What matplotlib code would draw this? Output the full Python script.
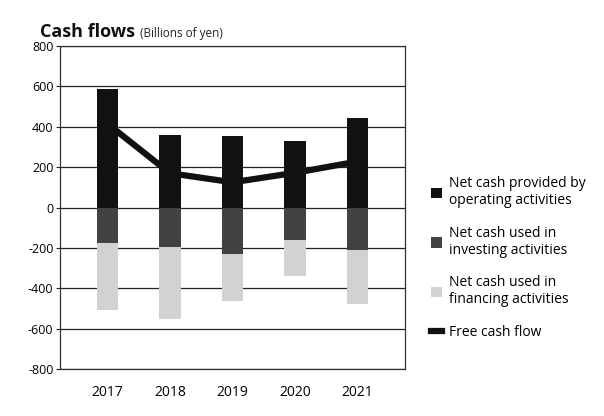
import matplotlib
matplotlib.use("Agg")
import matplotlib.pyplot as plt
from matplotlib.patches import Patch
from matplotlib.lines import Line2D

plt.rcParams['font.family'] = ['Open Sans', 'DejaVu Sans']

years = ["2017", "2018", "2019", "2020", "2021"]
operating = [585, 360, 355, 330, 445]
investing = [-175, -195, -230, -160, -210]
financing = [-330, -355, -230, -180, -265]
free_cash_flow = [415, 170, 125, 172, 228]
y_ticks = [800, 600, 400, 200, 0, -200, -400, -600, -800]

c_op = "#111111"
c_inv = "#424242"
c_fin = "#d2d2d2"

fig = plt.figure(figsize=(6.04, 4.16), dpi=100)
ax = fig.add_axes([0.10, 0.112, 0.57, 0.778])

x = list(range(len(years)))
w = 0.34
ax.bar(x, operating, width=w, color=c_op, zorder=2)
ax.bar(x, investing, width=w, color=c_inv, zorder=2)
ax.bar(x, financing, width=w, bottom=investing, color=c_fin, zorder=2)
ax.plot(x, free_cash_flow, color="#111111", lw=4.5, zorder=3, solid_capstyle="butt")

ax.set_ylim(-800, 800)
ax.set_xlim(-0.75, 4.75)
ax.set_yticks(y_ticks)
ax.set_yticklabels([str(t) for t in y_ticks], fontsize=9)
ax.set_xticks(x)
ax.set_xticklabels(years, fontsize=10)
ax.tick_params(axis="x", length=0, pad=11)
ax.tick_params(axis="y", length=3, width=0.8, color="#222222", pad=2)
ax.yaxis.grid(True, color="#222222", lw=0.9, zorder=1)
ax.set_axisbelow(True)
for s in ax.spines.values():
    s.set_color("#333333")
    s.set_linewidth(0.9)

t = fig.text(0.066, 0.912, "Cash flows", fontsize=13, fontweight="bold", color="#111111")
fig.canvas.draw()
fig.text(0, 0, "")
ax.annotate("(Billions of yen)", xy=(1, 0), xycoords=t, xytext=(4, 0.5),
            textcoords="offset points", fontsize=8.5, color="#222222",
            ha="left", va="bottom", annotation_clip=False)

handles = [
    Patch(facecolor=c_op, edgecolor="none"),
    Patch(facecolor=c_inv, edgecolor="none"),
    Patch(facecolor=c_fin, edgecolor="none"),
    Line2D([0], [0], color="#111111", lw=4.5),
]
labels = [
    "Net cash provided by\noperating activities",
    "Net cash used in\ninvesting activities",
    "Net cash used in\nfinancing activities",
    "Free cash flow",
]
fig.legend(handles, labels, loc="center left", bbox_to_anchor=(0.705, 0.38),
           frameon=False, fontsize=10, handlelength=0.8, handleheight=0.8,
           handletextpad=0.5, labelspacing=1.25, borderaxespad=0)

fig.savefig("out.png", dpi=100, facecolor="white")
